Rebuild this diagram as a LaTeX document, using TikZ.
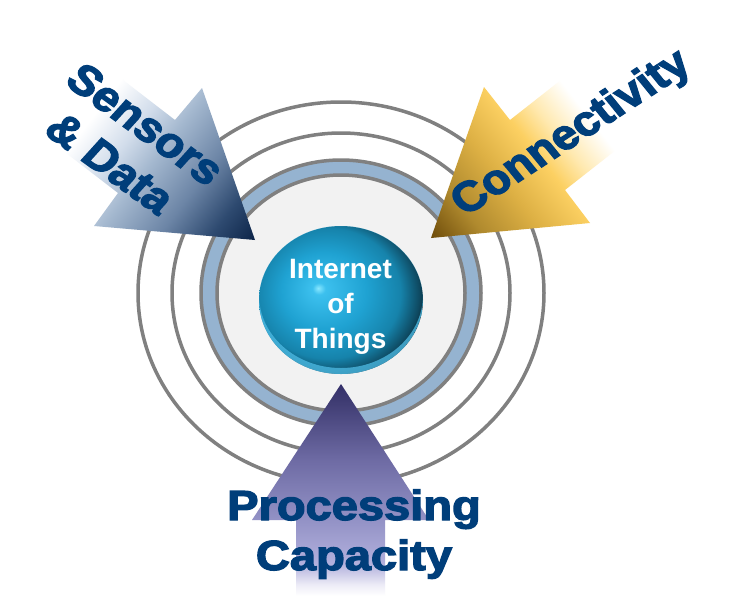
\documentclass[tikz,border=0pt]{standalone}
\usepackage{fontspec}
\setmainfont{Liberation Sans}
\newfontfamily\heavyfont{Liberation Sans Bold}[FakeBold=3]
\newfontfamily\iotfont{Liberation Sans Bold}
\definecolor{txtblue}{HTML}{003E7A}
\definecolor{ringgray}{HTML}{808080}
\definecolor{ringblue}{HTML}{95B3D0}
\definecolor{innerfill}{HTML}{F2F2F2}
% sensors arrow colours
\definecolor{sa1}{HTML}{D2DDEB}
\definecolor{sa2}{HTML}{A4B8CF}
\definecolor{sa3}{HTML}{6C85A6}
\definecolor{sa4}{HTML}{2E4A70}
\definecolor{sa5}{HTML}{0C2448}
% connectivity arrow colours
\definecolor{ca1}{HTML}{FFE9B0}
\definecolor{ca2}{HTML}{FCD062}
\definecolor{ca3}{HTML}{DDB044}
\definecolor{ca4}{HTML}{B08A2E}
\definecolor{ca5}{HTML}{6E4C0A}
% processing arrow colours
\definecolor{pa1}{HTML}{EEEDF7}
\definecolor{pa2}{HTML}{B2B0DC}
\definecolor{pa3}{HTML}{9392C6}
\definecolor{pa4}{HTML}{6E6BA4}
\definecolor{pa5}{HTML}{3E3B72}
\definecolor{pa6}{HTML}{34306A}
% sphere colours
\definecolor{sp0}{HTML}{8AE8FF}
\definecolor{sp1}{HTML}{3CC0EE}
\definecolor{sp2}{HTML}{1FA2D2}
\definecolor{sp3}{HTML}{1683AB}
\definecolor{sp4}{HTML}{0E4A62}
\definecolor{sp5}{HTML}{020E14}
\definecolor{rimblue}{HTML}{4FBDE6}
\pgfdeclareverticalshading{sensorshade}{100bp}{color(0bp)=(white); color(36bp)=(white); color(46bp)=(sa1); color(54bp)=(sa2); color(66bp)=(sa3); color(76bp)=(sa4); color(85bp)=(sa5); color(100bp)=(sa5)}
\pgfdeclareverticalshading{connshade}{100bp}{color(0bp)=(white); color(35bp)=(white); color(44bp)=(ca1); color(51bp)=(ca2); color(62bp)=(ca3); color(74bp)=(ca4); color(85bp)=(ca5); color(100bp)=(ca5)}
\pgfdeclareverticalshading{procshade}{100bp}{color(0bp)=(white); color(25.5bp)=(white); color(28bp)=(pa1); color(33bp)=(pa2); color(43.2bp)=(pa3); color(57.2bp)=(pa4); color(71.3bp)=(pa5); color(75bp)=(pa6); color(100bp)=(pa6)}
\pgfdeclareradialshading{sphereshade}{\pgfpoint{-7bp}{4bp}}{color(0bp)=(sp0); color(2bp)=(sp1); color(13bp)=(sp2); color(22bp)=(sp3); color(27bp)=(sp4); color(31bp)=(sp5); color(50bp)=(sp5)}
\tikzset{
  ringline/.style={draw=ringgray, line width=3.5pt},
  biglabel/.style={text=txtblue, font=\heavyfont\fontsize{42}{50}\selectfont, inner sep=0pt, align=center, xscale=1.12},
  iotlabel/.style={text=white, font=\iotfont\fontsize{28}{35}\selectfont, inner sep=0pt, anchor=base},
}
\begin{document}
\begin{tikzpicture}[x=1pt, y=-1pt]
\useasboundingbox[fill=white] (0,0) rectangle (734,606);
% rings
\draw[ringline] (341,293) ellipse [x radius=203pt, y radius=191pt];
\draw[ringline] (341,293) ellipse [x radius=169pt, y radius=160pt];
\draw[ringline, fill=ringblue] (341,293) ellipse [x radius=140pt, y radius=133pt];
\draw[ringline, fill=innerfill] (341,293) ellipse [x radius=124pt, y radius=118pt];
% sphere
\shade[shading=sphereshade] (341,300) ellipse [x radius=82pt, y radius=74pt];
\begin{scope}
  \clip (341,300) ellipse [x radius=82pt, y radius=74pt];
  \fill[rimblue, opacity=0.75, even odd rule]
    (341,300) ellipse [x radius=82pt, y radius=74pt]
    (341,295) ellipse [x radius=82pt, y radius=73pt];
\end{scope}
\node[iotlabel] (iot1) at (340.5,278) {Internet};
\node[iotlabel] (iot2) at (340.5,313) {of};
\node[iotlabel] (iot3) at (340.5,348) {Things};
% arrows
\shade[shading=sensorshade, shading angle=-127.5]
  (88,53) -- (175,120) -- (202,88) -- (255,240) -- (94,226) -- (118,193) -- (31,126) -- cycle;
\shade[shading=connshade, shading angle=128]
  (589,58) -- (510,120) -- (484,87) -- (431,238) -- (590,223) -- (565,190) -- (644,128) -- cycle;
\shade[shading=procshade]
  (296,598) -- (296,520) -- (252,520) -- (341,384) -- (429,520) -- (385,520) -- (385,598) -- cycle;
% labels
\node[biglabel, rotate=-39] (sensors) at (128,143.5) {Sensors\\\& Data};
\node[biglabel, rotate=36] (conn) at (572,134) {Connectivity};
\node[biglabel, anchor=base] (proc1) at (354,520) {Processing};
\node[biglabel, anchor=base] (proc2) at (354,570) {Capacity};
\end{tikzpicture}
\end{document}
